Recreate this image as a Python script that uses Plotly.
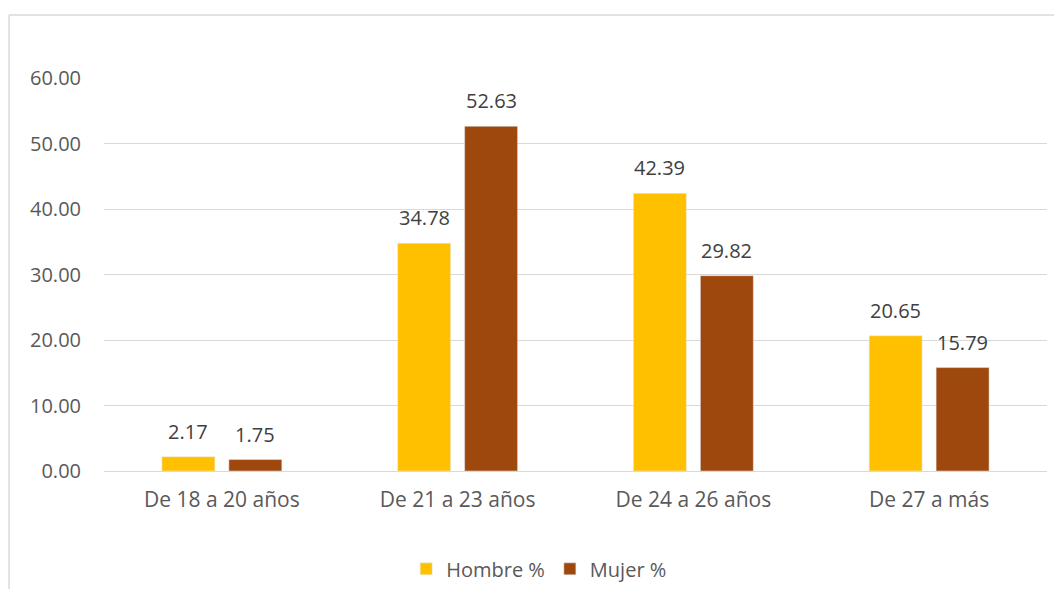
import plotly.graph_objects as go

categories = ["De 18 a 20 años", "De 21 a 23 años", "De 24 a 26 años", "De 27 a más"]
hombre = [2.17, 34.78, 42.39, 20.65]
mujer = [1.75, 52.63, 29.82, 15.79]
y_ticks = [0, 10, 20, 30, 40, 50, 60]

GRAY = "#595959"
FONT = "Open Sans"
FS = 20

fig = go.Figure()
fig.add_trace(go.Bar(name="Hombre %", x=categories, y=hombre, marker_color="#FFC000"))
fig.add_trace(go.Bar(name="Mujer %", x=categories, y=mujer, marker_color="#9E480E"))

annotations = []
for vals, shift in ((hombre, -33.5), (mujer, 33.5)):
    for c, v in zip(categories, vals):
        annotations.append(dict(x=c, y=v, xref="x", yref="y", text=f"{v:.2f}",
                                showarrow=False, xshift=shift, yshift=10, yanchor="bottom",
                                font=dict(family=FONT, size=FS, color="#404040")))

# page body has an 8px margin; figure is sized so the page does not overflow
shapes = [
    dict(type="line", xref="paper", yref="paper", x0=-0.1007, x1=1.1, y0=1.160, y1=1.160,
         line=dict(color="#d9d9d9", width=1.5)),
    dict(type="line", xref="paper", yref="paper", x0=-0.1007, x1=-0.1007, y0=1.160, y1=-0.4,
         line=dict(color="#d9d9d9", width=1.5)),
]

fig.update_layout(
    width=1046, height=581,
    margin=dict(l=96, r=7, t=70, b=118, autoexpand=False),
    paper_bgcolor="white", plot_bgcolor="white",
    barmode="group", bargap=0.432, bargroupgap=0.209,
    font=dict(family=FONT, size=FS, color=GRAY),
    showlegend=True,
    legend=dict(orientation="h", x=0.4615, xanchor="center", y=-0.249, yanchor="middle",
                font=dict(family=FONT, size=FS, color=GRAY), itemwidth=30),
    annotations=annotations,
    shapes=shapes,
    xaxis=dict(showgrid=False, showline=False, ticks="", ticklabelstandoff=14,
               tickfont=dict(size=21, color=GRAY)),
    yaxis=dict(range=[0, 60], tickvals=y_ticks, tickformat=".2f", showgrid=True,
               gridcolor="#d9d9d9", gridwidth=1, zeroline=True, zerolinecolor="#d9d9d9",
               zerolinewidth=1, showline=False, ticklabelstandoff=22,
               tickfont=dict(size=FS, color=GRAY)),
)

fig.write_html("out.html")
